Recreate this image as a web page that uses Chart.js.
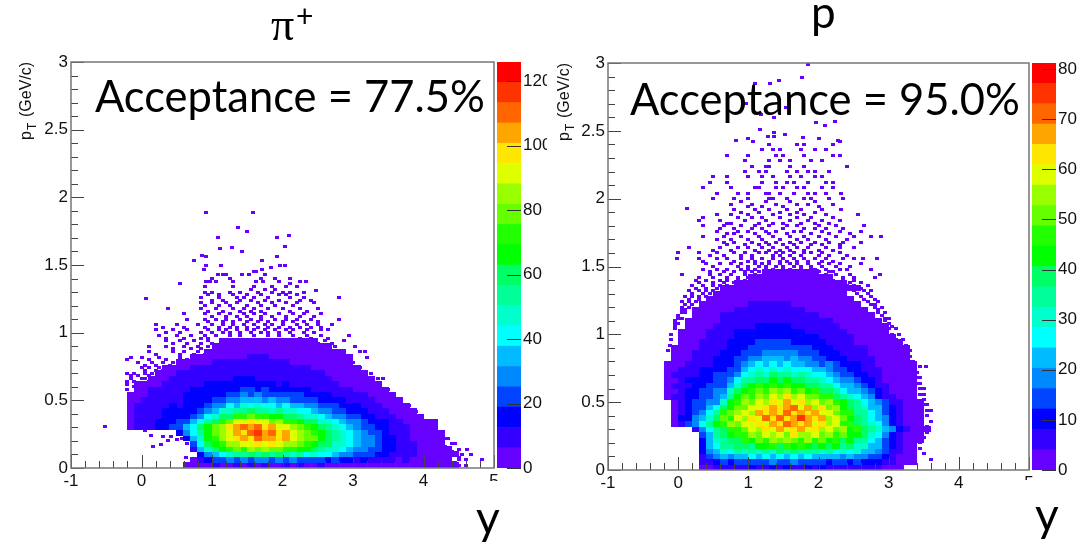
<!DOCTYPE html>
<html>
<head>
<meta charset="utf-8">
<script src="https://cdn.jsdelivr.net/npm/chart.js@4"></script>
<style>
html, body { margin: 0; padding: 0; background: #fff; overflow: hidden; }
canvas { position: absolute; top: 0; }
</style>
</head>
<body>
<canvas id="piPanel" width="547" height="545" style="left:0"></canvas>
<canvas id="piBar" width="50" height="545" style="left:497px"></canvas>
<canvas id="protonPanel" width="534" height="545" style="left:547px"></canvas>
<canvas id="protonBar" width="49" height="545" style="left:1032px"></canvas>
<script>
// palette, one colour per z bin, lowest first
const palette = ['#6600ff','#3300ff','#0000ff','#0044ff','#0088ff','#00bbff','#00ffff','#00ffcc','#00ff99','#00ff66',
                 '#00ff00','#22ff00','#66ff00','#99ff00','#ddff00','#ffe600','#ffa500','#ff6600','#ff3300','#ff0000'];

const xTicks = [-1,0,1,2,3,4,5];
const yTicks = [0,0.5,1,1.5,2,2.5,3];
const piBarTicks = [0,20,40,60,80,100,120];
const protonBarTicks = [0,10,20,30,40,50,60,70,80];
const piZStep = 6.3;
const protonZStep = 4.06;

// pi+ : counts per cell, rows of 0.04 GeV/c, columns of 0.1 in y. piStart = first column of the row in tenths of y
const piStart = [6,7,8,7,7,6,5,-2,-2,-2,-2,-2,-2,-2,-1,-1,1,2,3,5,7,9,10,11];
const piCounts = [
[3,4,6,5,7,5,6,8,6,7,5,7,6,4,7,5,8,6,5,7,4,6,5,3,5,4,3,5,3,2,4,2,3,1,2,2,1,2,1],
[6,11,15,22,20,27,24,29,25,31,26,24,30,25,27,22,25,20,23,16,19,13,15,11,13,9,11,7,9,6,7,4,5,3,3,2,2],
[13,29,37,43,49,54,51,58,55,60,52,57,53,48,51,43,45,39,38,32,31,26,25,20,20,15,16,11,11,8,8,5,6,3,4,2,2],
[11,32,45,59,63,71,77,74,82,78,85,76,81,72,75,68,64,60,55,50,46,40,37,31,27,24,20,16,14,11,10,7,6,4,3,2,1],
[21,38,58,66,75,86,84,94,90,99,93,97,90,85,88,76,74,69,62,58,50,47,40,36,30,26,21,18,14,12,9,8,5,4,3,2],
[15,33,48,66,72,88,92,99,107,100,109,103,106,97,101,91,88,80,76,68,62,54,49,42,37,31,26,21,17,14,11,9,6,5,4,3,2],
[13,27,39,56,63,80,86,94,104,98,108,116,104,110,99,103,89,86,80,71,65,58,51,45,39,32,28,23,19,15,12,10,7,6,5,4,3,2],
[5,8,10,12,14,16,21,25,36,43,58,66,80,86,97,101,109,106,113,100,103,92,92,82,80,72,67,58,55,45,41,35,31,25,21,18,14,12,9,7,6,4,3,2],
[5,8,10,12,13,15,16,21,23,33,42,53,60,74,78,89,90,96,89,91,81,84,74,73,67,61,57,48,47,39,35,29,27,21,18,15,13,10,8,6,4,3,2,1],
[5,8,10,11,12,14,14,17,18,23,30,41,47,58,61,70,70,76,71,72,66,66,60,58,53,48,46,40,37,30,28,23,21,17,15,12,10,8,6,4,3,2],
[5,7,9,10,11,13,13,14,16,17,21,28,35,46,47,54,54,60,55,56,50,51,45,45,40,39,34,31,28,24,22,18,16,14,12,10,8,6,5,3,2],
[4,7,9,9,11,10,13,12,15,14,17,19,29,30,39,37,45,41,47,40,43,36,39,33,34,28,28,24,23,19,18,15,14,11,10,8,6,5,3,2],
[4,6,8,8,10,10,12,12,14,13,16,15,22,23,30,29,34,32,36,31,32,28,29,25,25,22,21,18,18,15,14,12,10,9,7,6,4,3,2],
[2,3,6,7,9,9,11,11,13,13,15,15,16,18,22,21,26,24,26,23,25,21,22,19,19,17,16,14,13,12,10,9,8,7,5,4,3,2],
[2,5,7,8,9,10,11,12,13,14,14,15,15,17,18,19,20,18,19,17,17,15,16,13,14,12,11,10,9,8,7,6,5,4,3,2],
[1,3,5,6,8,9,10,11,12,12,13,13,14,15,14,16,14,15,13,14,12,13,11,11,10,9,8,8,7,6,5,4,3,2,2],
[1,4,6,7,8,9,10,10,11,11,12,12,13,13,13,12,12,12,11,11,10,10,9,8,8,7,6,5,4,3,2,2],
[1,3,6,7,8,8,9,9,10,10,11,11,11,11,11,10,10,10,9,9,8,8,7,7,6,5,4,3,2,1],
[1,3,5,6,7,7,8,8,9,9,9,9,9,9,9,9,8,8,7,7,7,6,5,5,4,3,2,1],
[2,3,5,6,6,7,7,7,8,8,8,8,7,7,7,7,6,6,5,5,4,3,2,2,1],
[1,3,4,5,5,6,6,6,7,7,7,6,6,6,5,5,5,4,4,3,2,1,1],
[2,3,3,4,4,4,5,5,5,4,4,4,4,3,3,3,2,2,1,1],
[1,2,3,3,3,4,4,4,3,3,3,3,2,2,2,1,1],
[1,2,2,2,3,3,3,2,2,2,2,2,1,1]
];

// pi+ : single low-count bins outside the body, each row is [pT, y, y, ...]
const piSpecks = [
[1.89,.92,1.58],[1.78,1.37],[1.75,1.49],[1.72,2.09],[1.7,1.08,1.92],[1.64,2.03],[1.63,1.29],[1.62,1.12],[1.6,1.43],
[1.57,.86],[1.56,.92,1.92],[1.53,.74,1.71],[1.5,.92,1.13,1.97,2.03],[1.48,1.84],[1.47,.89,1.71],[1.45,1.6,1.63],
[1.43,1.09,1.15,1.2,1.43,1.52,1.75],[1.4,1.0,1.25,1.7,1.9,2.1],
[1.38,.92,.97,1.05,1.3,1.62,1.72,1.95,2.25,2.33],[1.36,.54,2.1],[1.34,.9,1.3,1.6,1.85,2.05,2.2],[1.32,1.55,1.75,1.9],
[1.31,2.47],[1.3,.9,1.0,1.25,1.4,1.65,1.85,2.0,2.1,2.3],[1.28,.95,1.1,1.3,1.5,1.7,1.95,2.05,2.2],
[1.26,.85,1.1,1.35,1.45,1.6,1.8,2.1,2.3,2.8],[1.25,.06],[1.24,1.0,1.15,1.4,1.55,1.75,1.95,2.25,2.4],
[1.22,.85,1.0,1.2,1.35,1.65,1.85,2.05,2.2,2.45],[1.2,.9,1.1,1.25,1.5,1.7,1.9,2.15],
[1.18,.38,.85,1.05,1.3,1.45,1.6,1.8,2.0,2.25,2.5],[1.16,.95,1.15,1.4,1.55,1.7,2.1,2.35],
[1.14,.6,.9,1.1,1.25,1.45,1.6,1.75,1.95,2.15,2.3,2.55],[1.12,1.0,1.2,1.35,1.5,1.7,1.85,2.05,2.25,2.45],
[1.1,.65,.9,1.05,1.2,1.4,1.55,1.7,1.9,2.05,2.2,2.4,2.8],[1.08,.95,1.15,1.3,1.5,1.65,1.8,2.0,2.15,2.3,2.5],
[1.06,.2,.5,.8,1.0,1.15,1.3,1.45,1.6,1.75,1.85,2.0,2.2,2.35,2.5,2.7],[1.04,.3,.6,.9,1.1,1.25,1.35,1.5,1.65,1.8,1.95,2.1,2.25,2.4,2.55],
[1.02,.2,.45,.65,.95,1.1,1.2,1.35,1.5,1.6,1.75,1.9,2.05,2.15,2.35,2.55,2.65],[1.0,.35,.55,.85,1.0,1.15,1.25,1.4,1.55,1.7,1.8,1.95,2.1,2.3,2.45],
[.98,.25,.5,.7,.9,1.05,1.25,1.4,1.6,1.8,1.95,2.15,2.35,2.55,2.94],[.96,.35,.6,.85,.95,2.25,2.4,2.65],
[.94,.35,.55,.75,.95,2.45,2.6,2.87],[.92,.45,.65,.85,1.0,2.5,2.7],[.9,.1,.35,.6,.8,.95,2.3,2.6,2.75,3.03],[.88,.45,.7,.85,2.5,2.65],
[.86,.1,.45,.6,.8,2.55,2.7,2.85,3.1,3.17],[.84,.2,.55,.75,.9,2.65],[.82,-.15,0,.25,.55,2.6,2.75,2.9,3.2],[.8,-.2,.1,.35,.65,2.8],
[.78,-.05,.15,.3,.45,2.75,2.9,3.0],[.76,.05,.2,.4,2.8],[.74,0,.1,.25,.35,2.85,3.05,3.1],[.72,.05,.2,.3,2.95],
[.7,-.2,-.1,.05,.15,3.0,3.15,3.25],[.68,-.15,-.05,.1,3.1],[.66,-.15,0,.05,.15,3.05,3.2,3.36,3.42],[.64,-.2,-.1,.1,3.15],
[.62,-.2,-.05,.05,3.15,3.3],[.6,-.1,3.25],[.58,-.2,-.05,3.3,3.5],[.56,3.35],[.54,3.4,3.45],[.52,3.45],[.5,3.5,3.6],[.48,3.55],
[.46,3.6,3.7,3.8],[.44,3.65],[.42,3.65,3.84,3.9],[.4,3.75],[.38,3.8,3.95],[.36,3.85],[.34,3.95,4.1],[.32,4.05],[.31,-.52],[.3,4.0,4.15],
[.28,.05,4.1],[.26,4.1,4.25],[.24,.14,4.2],[.23,.31,.42],[.22,.57,4.15,4.3,4.35],[.21,.5],[.2,.38,4.25],[.18,.64,4.2,4.4,4.45],
[.17,.28],[.16,.17,4.3],[.14,4.35,4.5,4.62],[.12,4.4],[.1,4.4,4.55,4.68],[.08,.63,4.5],[.06,4.5,4.6,4.83],[.04,4.45],[.02,4.4,4.5,4.6]
];

// proton : same layout as the pi+ grid
const protonStart = [3,3,3,3,3,3,3,2,-1,-1,-1,-1,-1,-2,-2,-2,-2,-2,-2,-2,-1,-1,-1,0,0,0,1,1,2,2,3,4,5,6,8,10,12];
const protonCounts = [
[2,4,6,5,7,8,6,9,8,7,10,7,9,8,6,9,8,10,7,8,6,8,7,6,5,6,3,4,2],
[5,8,10,13,12,14,15,13,16,14,17,13,15,17,14,15,13,16,12,14,13,12,13,11,9,10,7,6,3,2,1],
[8,15,17,21,20,24,21,25,23,26,22,27,24,25,23,27,21,24,22,23,20,22,18,19,15,16,11,7,4,2,1],
[10,19,23,29,27,33,29,35,32,36,30,38,33,37,35,33,36,30,34,28,31,26,29,24,22,17,14,8,5,2,1],
[12,21,27,33,34,37,40,36,44,41,45,40,46,42,47,43,39,44,38,41,33,37,30,31,24,21,15,9,5,3,1],
[12,24,29,36,40,38,46,43,50,47,53,49,55,50,48,54,46,50,43,46,40,41,33,35,27,23,16,10,6,3,2,1],
[13,24,33,37,44,47,45,54,50,57,54,60,52,61,56,53,58,50,54,47,49,42,44,37,30,26,18,11,6,4,2,1],
[8,17,27,35,38,48,47,52,58,55,63,58,66,60,62,67,58,63,55,59,50,53,44,45,38,34,29,24,18,12,7,4,2,1],
[4,8,13,19,26,36,44,47,54,52,60,57,64,60,68,63,70,66,62,68,60,63,54,58,48,46,38,36,30,26,19,12,8,4,3,2],
[4,9,12,17,22,31,38,49,46,57,55,62,59,70,63,72,64,69,74,65,62,66,56,58,50,44,40,35,28,24,17,11,7,4,3,2],
[4,8,11,15,18,26,34,45,50,54,59,56,66,61,69,64,72,63,68,62,66,58,60,52,48,45,36,33,27,22,16,10,6,4,3,2],
[4,8,10,14,16,21,26,39,44,52,51,60,57,63,68,61,66,71,60,65,56,62,50,54,44,40,36,31,24,21,15,9,6,4,3,2],
[4,7,10,13,14,18,20,31,41,47,54,52,60,56,64,58,66,60,63,56,60,52,54,46,43,37,33,27,22,19,13,8,5,4,3,2],
[1,5,7,9,11,14,15,19,23,36,42,50,47,56,52,58,53,61,54,57,50,52,46,47,38,34,29,25,21,17,12,8,5,3,3,2],
[2,4,6,9,10,13,14,17,18,31,37,43,47,50,46,54,49,53,47,50,44,45,38,40,33,28,24,21,17,13,10,7,4,3,2,1],
[2,5,6,8,10,12,13,15,16,23,31,39,41,45,42,48,44,47,42,44,39,38,34,33,28,24,21,17,14,11,8,5,3,2,2,1],
[2,4,6,9,9,11,12,14,14,18,25,33,35,40,37,42,38,41,37,38,34,33,30,27,24,20,17,14,11,9,6,4,3,2,2,1],
[2,5,5,7,8,10,10,13,13,15,20,28,31,35,32,37,33,35,32,33,29,27,25,23,20,16,14,12,9,8,5,4,3,2,2,1],
[2,3,5,6,7,9,9,12,12,13,16,23,25,29,28,31,28,30,27,27,25,23,21,19,16,14,11,10,8,7,5,4,3,2,1,1],
[1,3,4,5,6,8,8,10,11,12,14,19,21,25,23,27,24,26,23,24,20,20,16,17,13,11,9,9,7,6,4,3,3,2,1,1],
[2,3,4,6,7,8,9,11,10,13,15,19,19,22,21,23,20,21,18,18,15,14,12,10,9,8,7,6,5,4,3,2,2,1],
[1,3,3,5,6,7,8,9,10,11,13,16,16,19,17,19,17,17,15,15,13,12,10,9,8,7,6,5,4,3,3,2,1,1],
[1,2,3,4,5,6,7,8,9,10,11,13,14,16,14,15,14,14,13,13,11,10,9,8,7,6,5,5,4,3,2,2,1,1],
[2,3,4,5,6,7,8,9,10,11,12,13,13,13,14,13,12,12,11,10,9,8,7,6,5,4,4,3,2,2,1,1],
[1,2,3,4,5,6,7,8,9,10,11,11,12,12,12,12,11,11,10,9,8,7,6,6,5,4,3,3,2,1,1],
[1,2,3,4,5,6,7,8,9,9,10,10,11,11,10,10,10,9,8,8,7,6,5,5,4,3,3,2,1,1],
[1,2,3,4,5,6,6,7,8,8,9,9,9,9,9,8,8,7,7,6,5,5,4,4,3,2,2,1,1],
[1,1,2,3,4,5,5,6,7,7,8,8,8,8,8,7,7,6,6,5,5,4,4,3,2,2,1,1],
[1,2,3,4,5,5,6,6,7,7,7,7,7,6,6,5,5,5,4,4,3,2,2,1,1,1],
[1,1,2,3,4,4,5,5,6,6,6,6,6,6,5,5,4,4,4,3,3,2,2,1,1],
[1,1,2,3,3,4,4,5,5,5,5,5,5,4,4,4,3,3,3,2,2,1,1],
[1,1,2,3,3,4,4,4,4,4,4,4,4,3,3,3,2,2,1,1,1],
[1,1,2,2,3,3,3,3,4,3,3,3,3,2,2,2,1,1,1],
[1,1,2,2,2,3,3,3,3,3,2,2,2,1,1,1,1,1,1,1],
[1,1,2,2,2,3,3,3,3,2,2,2,1,1,1,1],
[1,1,2,2,2,2,2,2,2,1,1,1],
[1,1,2,2,2,2,1,1]
];

const protonSpecks = [
[2.99,1.85],[2.89,1.76],[2.87,1.43],[2.85,1.1,1.31],[2.7,.97],[2.67,1.54],[2.62,1.18],[2.6,1.36],[2.57,2.24],[2.56,1.97],[2.54,2.09],
[2.51,1.16],[2.49,1.36],[2.47,1.52],[2.46,1.28,1.36],[2.45,1.78],[2.44,.99,2.0],[2.43,.83,2.28],[2.42,1.07,2.3],
[2.4,1.3,1.7,1.8,2.2],[2.36,1.2,1.35,1.45,1.75,1.95,2.1],[2.32,.7,1.0,1.4,1.5,1.8,2.2,2.3],[2.28,.95,1.3,1.45,1.6,1.9,2.05],
[2.24,1.05,1.25,1.3,1.6,1.8,2.41],[2.2,.95,1.15,1.25,1.55,1.7,1.85,1.95,2.15],[2.16,.5,.7,1.0,1.2,1.35,1.6,1.75,1.95,2.05],
[2.12,.45,.7,1.2,1.4,1.55,1.65,1.85,2.1,2.2],[2.08,.35,.75,1.1,1.15,1.4,1.5,1.7,1.8,2.05,2.2],
[2.04,.55,.85,1.0,1.25,1.3,1.45,1.65,1.85,1.95,2.1,2.32],[2.0,.5,.8,1.0,1.3,1.35,1.55,1.8,1.9,2.15,2.35],
[1.98,.9,1.25,1.6,1.95],[1.96,.75,1.05,1.4,1.7,1.85,2.2],[1.94,1.0,1.2,1.5,2.0],[1.93,.12],[1.92,.8,1.1,1.3,1.55,1.75,2.05,2.32],[1.9,.9,1.15,1.45,1.7,1.95],
[1.88,.55,.75,1.0,1.35,1.6,1.8,2.1,2.56],[1.86,.36,.85,1.05,1.2,1.45,1.7,1.9,2.2],[1.84,.3,.6,.95,1.25,1.6,1.85,2.05,2.3],[1.82,.7,.75,1.15,1.35,1.5,1.75,1.95,2.15],
[1.8,.35,.65,.9,1.1,1.3,1.55,1.7,2.0,2.25,2.65],[1.78,.6,.8,1.05,1.2,1.5,1.8,1.95,2.1,2.35],
[1.76,.55,.85,1.0,1.25,1.4,1.65,1.75,2.05,2.3,2.6],[1.74,.7,.8,1.1,1.3,1.55,1.9,2.15,2.45],
[1.72,.35,.65,.9,1.15,1.35,1.6,1.8,2.0,2.25,2.5,2.75,2.89],[1.7,.55,.75,1.0,1.2,1.45,1.7,1.85,2.1,2.4],
[1.68,.65,.8,1.05,1.25,1.4,1.6,1.75,1.95,2.15,2.35,2.6],[1.66,.7,.95,1.15,1.3,1.5,1.65,1.9,2.05,2.3],
[1.64,.15,.6,.85,1.0,1.2,1.35,1.55,1.7,1.85,2.1,2.3,2.5],[1.62,.5,.75,1.1,1.3,1.45,1.6,1.8,2.0,2.2],
[1.6,0,.3,.55,.8,.95,1.15,1.25,1.4,1.5,1.65,1.8,1.9,2.05,2.3],[1.58,.45,.65,.9,1.05,1.35,1.45,1.6,1.75,2.0,2.15,2.4],
[1.56,-.02,.3,.55,.7,.9,1.05,1.2,1.35,1.5,1.65,1.8,1.95,2.1,2.35,2.5,2.63,2.84],[1.54,.35,.8,1.0,1.1,1.3,1.45,1.55,1.7,1.85,2.05,2.2],
[1.52,.4,.6,.75,.9,1.1,1.2,1.3,1.45,1.6,1.7,1.85,2.0,2.15,2.3,2.6],[1.5,.5,.85,1.0,1.15,1.25,1.4,1.5,1.65,1.75,1.9,2.05,2.25,2.45],
[1.48,.35,.55,.7,.9,1.0,1.1,1.25,1.35,1.5,1.6,1.75,1.9,1.95,2.1,2.3,2.4,2.75],[1.46,.45,.65,.8,.95,1.05,1.15,1.3,1.4,1.55,1.7,1.8,2.0,2.15,2.2],
[1.44,.05,.45,.6,.75,.95,1.1,1.85,1.95,2.1,2.25,2.45,2.87],[1.42,.3,.5,.7,.85,1.0,1.15,1.85,2.0,2.15,2.35,2.5,2.8],
[1.4,.25,.4,.6,.7,.85,.95,2.05,2.2,2.35,2.5],[1.38,.3,.5,.65,.8,2.1,2.25,2.45,2.6],
[1.36,.2,.35,.5,.6,.7,2.3,2.4,2.5,2.7],[1.34,.25,.4,.55,2.35,2.45,2.6],[1.32,.15,.3,.4,.5,2.5,2.65,2.75],[1.3,.2,.35,.45,2.55,2.7],
[1.28,.1,.2,.3,.4,2.6,2.75],[1.26,.15,.3,2.65,2.8],[1.24,.05,.15,.25,2.7,2.85],[1.22,.1,.2,2.75,2.8],
[1.2,.05,.15,2.8,2.9],[1.18,.05,.1,2.85],[1.16,.05,.1,2.85,2.95],[1.14,0,2.9],[1.12,0,.05,2.95,3.0],[1.1,-.05,2.95],
[1.08,-.05,0,3.0],[1.06,-.05,3.05],[1.04,-.05,3.0,3.1],[1.0,-.1,3.05,3.15],[.96,-.1,3.1,3.2],
[.92,-.12,3.15,3.25],[.88,-.15,3.2,3.3],[.84,3.25,3.3],[.8,3.3,3.35],[.76,3.35,3.45,3.53],[.72,3.35,3.4],[.68,3.4,3.45],
[.64,3.4,3.45],[.6,3.45,3.5],[.56,3.45,3.5],[.52,3.5],[.48,3.5,3.55],[.44,3.55,3.6],[.4,3.55],[.36,3.6],[.32,3.55],[.28,3.55],
[.24,3.5],[.2,3.45],[.16,3.45],[.12,3.5],[.08,3.6]
];

// one small image per colour, chart.js draws these as the point style
function cellImage(color, w, h) {
    const c = document.createElement('canvas');
    c.width = w;
    c.height = h;
    const g = c.getContext('2d');
    g.fillStyle = color;
    g.fillRect(0, 0, w, h);
    return c;
}

function buildDatasets(starts, counts, specks, zStep) {
    const groups = palette.map(() => []);
    counts.forEach((row, r) => {
        row.forEach((v, i) => {
            const bin = Math.min(19, Math.floor(v / zStep));
            groups[bin].push({ x: (starts[r] + i) / 10 + 0.05, y: r * 0.04 + 0.02 });
        });
    });
    const speckPts = [];
    specks.forEach(row => {
        row.slice(1).forEach(y => speckPts.push({ x: y, y: row[0] }));
    });
    // first dataset is painted last, so hot bins go first
    const sets = [];
    for (let i = 19; i >= 0; i--) {
        sets.push({ data: groups[i], pointStyle: cellImage(palette[i], 8, 6), pointRadius: 4, showLine: false });
    }
    sets.push({ data: speckPts, pointStyle: cellImage(palette[0], 4, 3), pointRadius: 2, showLine: false });
    return sets;
}

// inner ROOT style tick marks, frame and the slide text
function panelPlugin(p) {
    return {
        id: 'panelDeco',
        afterDatasetsDraw(chart) {
            const ctx = chart.ctx;
            const a = chart.chartArea;
            const sx = chart.scales.x;
            const sy = chart.scales.y;
            ctx.save();
            ctx.strokeStyle = '#444';
            ctx.lineWidth = 1;
            ctx.beginPath();
            for (let i = 0; i <= 30; i++) {
                const px = Math.round(sx.getPixelForValue(-1 + i * 0.2)) + 0.5;
                ctx.moveTo(px, a.bottom);
                ctx.lineTo(px, a.bottom - (i % 5 === 0 ? 13 : 7));
            }
            for (let i = 0; i <= 30; i++) {
                const py = Math.round(sy.getPixelForValue(i * 0.1)) + 0.5;
                ctx.moveTo(a.left, py);
                ctx.lineTo(a.left + (i % 5 === 0 ? 13 : 7), py);
            }
            ctx.stroke();
            ctx.strokeStyle = '#777';
            ctx.lineWidth = 1.5;
            ctx.strokeRect(a.left, a.top, a.right - a.left, a.bottom - a.top);
            ctx.restore();
        },
        afterDraw(chart) {
            const ctx = chart.ctx;
            ctx.save();
            // the last x label is cut off in the original slide
            ctx.fillStyle = '#fff';
            ctx.fillRect(p.cut[0], p.cut[1], 30, 14);

            ctx.fillStyle = '#000';
            ctx.textBaseline = 'alphabetic';
            ctx.textAlign = 'left';
            ctx.font = '43.5px Lato';
            ctx.fillText(p.note, p.noteX, p.noteY);
            ctx.font = '46px Lato';
            ctx.fillText('y', p.yLabel[0], p.yLabel[1]);
            p.title(ctx);

            ctx.translate(p.axisX, p.axisBottom);
            ctx.rotate(-Math.PI / 2);
            ctx.fillStyle = '#111';
            ctx.font = '16px "Liberation Sans"';
            ctx.fillText('p', 0, 0);
            ctx.font = '12px "Liberation Sans"';
            ctx.fillText('T', 10, 5);
            ctx.font = '16px "Liberation Sans"';
            ctx.fillText('(GeV/c)', 23, 0);
            ctx.restore();
        }
    };
}

function drawPanel(id, p) {
    new Chart(document.getElementById(id), {
        type: 'scatter',
        data: { datasets: buildDatasets(p.starts, p.counts, p.specks, p.zStep) },
        plugins: [panelPlugin(p)],
        options: {
            responsive: false,
            animation: false,
            events: [],
            layout: { padding: p.padding },
            plugins: { legend: { display: false }, tooltip: { enabled: false } },
            scales: {
                x: {
                    type: 'linear', min: -1, max: 5,
                    afterBuildTicks: s => { s.ticks = xTicks.map(v => ({ value: v })); },
                    afterFit: s => { s.height = p.xAxisHeight; },
                    grid: { display: false, drawTicks: false },
                    border: { display: false },
                    ticks: { color: '#111', font: { family: 'Liberation Sans', size: 17 }, padding: 3, maxRotation: 0, autoSkip: false, callback: v => String(v) }
                },
                y: {
                    type: 'linear', min: 0, max: 3,
                    afterBuildTicks: s => { s.ticks = yTicks.map(v => ({ value: v })); },
                    afterFit: s => { s.width = p.yAxisWidth; },
                    grid: { display: false, drawTicks: false },
                    border: { display: false },
                    ticks: { color: '#111', font: { family: 'Liberation Sans', size: 17 }, padding: 3, autoSkip: false, callback: v => String(v) }
                }
            }
        }
    });
}

// colour scale, a single stacked bar with one slice per palette entry
function drawColorBar(id, zStep, barTicks, top, bottom) {
    new Chart(document.getElementById(id), {
        type: 'bar',
        data: {
            labels: [''],
            datasets: palette.map(c => ({ data: [zStep], backgroundColor: c, borderWidth: 0, barPercentage: 1, categoryPercentage: 1 }))
        },
        plugins: [{
            id: 'barTicks',
            afterDatasetsDraw(chart) {
                const ctx = chart.ctx;
                const a = chart.chartArea;
                ctx.save();
                ctx.strokeStyle = '#333';
                ctx.beginPath();
                barTicks.forEach(v => {
                    const py = Math.round(chart.scales.y.getPixelForValue(v)) + 0.5;
                    ctx.moveTo(a.right, py);
                    ctx.lineTo(a.right - 14, py);
                });
                ctx.stroke();
                ctx.restore();
            }
        }],
        options: {
            responsive: false,
            animation: false,
            events: [],
            layout: { padding: { top: top, bottom: bottom } },
            plugins: { legend: { display: false }, tooltip: { enabled: false } },
            scales: {
                x: { stacked: true, display: false },
                y: {
                    stacked: true, position: 'right', min: 0, max: zStep * 20,
                    afterBuildTicks: s => { s.ticks = barTicks.map(v => ({ value: v })); },
                    afterFit: s => { s.width = s.chart.width - 24; },
                    grid: { display: false, drawTicks: false },
                    border: { display: false },
                    ticks: { color: '#111', font: { family: 'Liberation Sans', size: 17 }, padding: 2, autoSkip: false, callback: v => String(v) }
                }
            }
        }
    });
}

drawPanel('piPanel', {
    starts: piStart, counts: piCounts, specks: piSpecks, zStep: piZStep,
    padding: { top: 62, right: 53, bottom: 0, left: 0 }, xAxisHeight: 77, yAxisWidth: 71,
    note: 'Acceptance = 77.5%', noteX: 95, noteY: 112, yLabel: [476, 534], cut: [480, 481],
    axisX: 31, axisBottom: 140,
    title(ctx) {
        ctx.font = '46px "Liberation Serif"';
        ctx.fillText('π', 271, 40);
        ctx.font = '30px Lato';
        ctx.fillText('+', 296, 27);
    }
});
drawColorBar('piBar', piZStep, piBarTicks, 62, 77);

drawPanel('protonPanel', {
    starts: protonStart, counts: protonCounts, specks: protonSpecks, zStep: protonZStep,
    padding: { top: 63, right: 52, bottom: 0, left: 0 }, xAxisHeight: 75, yAxisWidth: 61,
    note: 'Acceptance = 95.0%', noteX: 83, noteY: 115, yLabel: [488, 531], cut: [468, 480],
    axisX: 22, axisBottom: 141,
    title(ctx) {
        ctx.font = '44px Lato';
        ctx.fillText('p', 264, 28);
    }
});
drawColorBar('protonBar', protonZStep, protonBarTicks, 63, 75);
</script>
</body>
</html>
